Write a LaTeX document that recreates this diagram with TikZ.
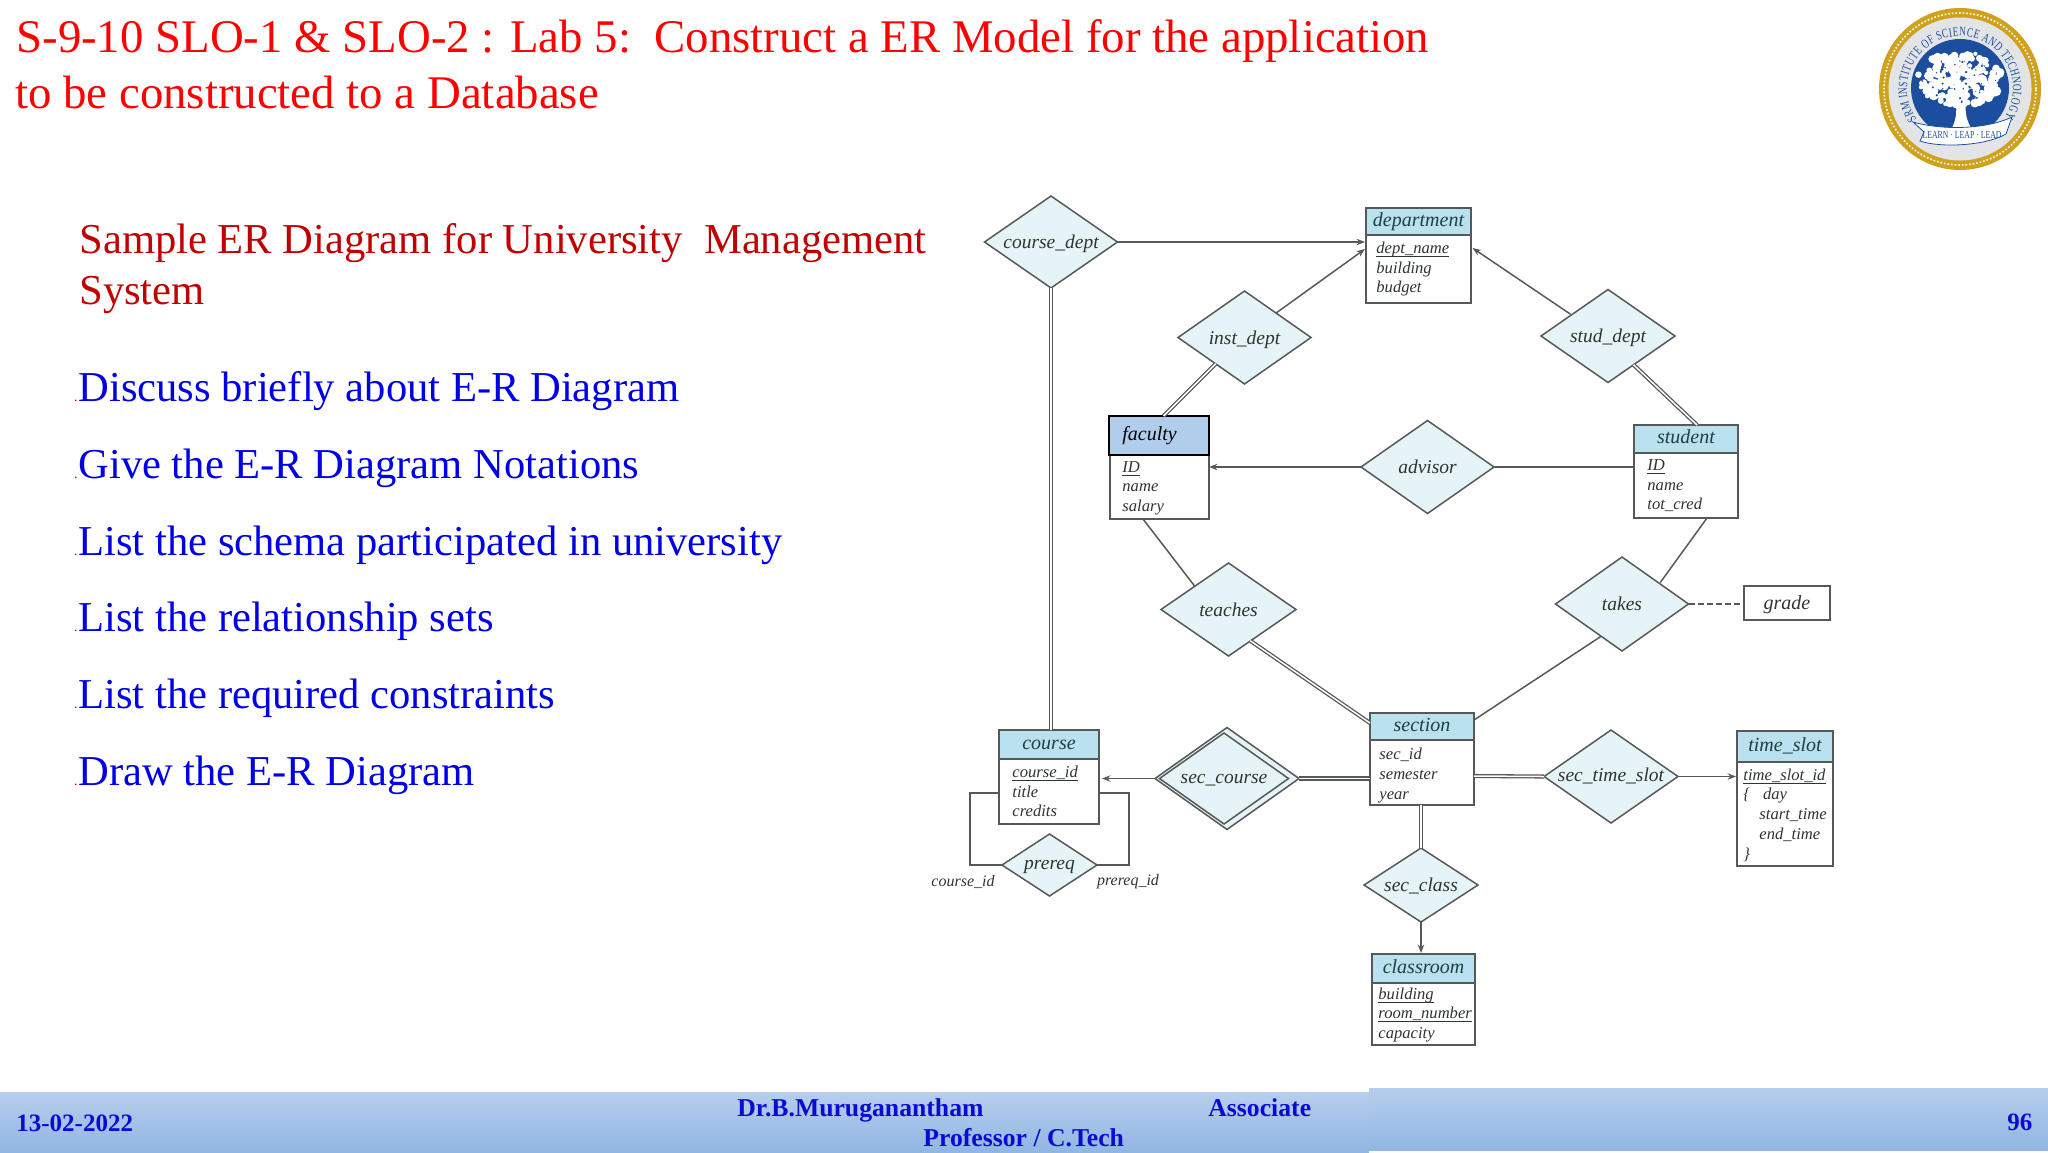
\documentclass[tikz,border=0pt]{standalone}
\usepackage{fontspec}
\setmainfont{Liberation Serif}
\newfontfamily\logofont[FakeStretch=0.72]{Liberation Serif}
\usetikzlibrary{shapes.geometric,arrows.meta,calc,decorations.text}
\definecolor{linec}{HTML}{55595A}
\definecolor{hdrc}{HTML}{B9E1EE}
\definecolor{relc}{HTML}{E6F3F7}
\definecolor{facc}{HTML}{B0CDEB}
\definecolor{txtc}{HTML}{2E3436}
\definecolor{hdrt}{HTML}{1E3F4A}
\definecolor{headred}{HTML}{C00000}
\definecolor{listblue}{HTML}{0000E6}
\definecolor{footblue}{HTML}{0A0AD2}
\definecolor{foota}{HTML}{B7CEEC}
\definecolor{footb}{HTML}{90B6E3}
\definecolor{gold}{HTML}{CFA21E}
\definecolor{ringg}{HTML}{E3E4E6}
\definecolor{srmblue}{HTML}{1B4E9F}
\tikzset{
  conn/.style={draw=linec,line width=0.75pt},
  arr/.style={conn,-{Stealth[length=4.2pt,width=3.2pt]}},
  dbl/.style={draw=linec,line width=0.65pt,double=white,double distance=0.75pt},
  entbody/.style={draw=linec,line width=0.75pt,fill=white,rectangle,inner sep=0pt,outer sep=0pt},
  enthead/.style={entbody,fill=hdrc},
  attrtxt/.style={inner sep=0pt,align=left,text=txtc,font=\fontsize{8.3}{9.85}\selectfont\itshape},
  hdrtxt/.style={text=hdrt,text height=6.5pt,text depth=2pt,font=\fontsize{10}{12}\selectfont\itshape},
  reltxt/.style={text=txtc,text height=7.5pt,text depth=1pt,font=\fontsize{9.75}{12}\selectfont\itshape},
  relshape/.style={diamond,draw=linec,line width=0.75pt,fill=relc,inner sep=0pt,outer sep=0pt,reltxt},
  titletxt/.style={anchor=base west,inner sep=0pt,text=red,font=\fontsize{23.4}{28}\selectfont},
  headtxt/.style={anchor=base west,inner sep=0pt,text=headred,font=\fontsize{21.3}{25}\selectfont},
  listtxt/.style={anchor=base west,inner sep=0pt,text=listblue,font=\fontsize{21.3}{25}\selectfont},
  dottxt/.style={anchor=base east,inner sep=0pt,text=headred,font=\fontsize{7}{8}\selectfont},
  foottxt/.style={anchor=base west,inner sep=0pt,text=footblue,font=\fontsize{12.85}{15}\selectfont\bfseries},
  blob/.style={fill=white,draw=none},
  speck/.style={fill=srmblue,draw=none}
}
\newcommand\ul[1]{\vphantom{dp}\underline{\smash{#1}}}
\def\ashift{0}
% id, title, xl, xr, ytop, yhdr, ybot, inset, attrs
\newcommand\erent[9]{%
  \node[entbody,minimum width={(#4-#3)*0.5pt},minimum height={(#7-#6)*0.5pt}] (#1) at ({(#3+#4)/2},{(#6+#7)/2}) {};
  \node[enthead,hdrtxt,minimum width={(#4-#3)*0.5pt},minimum height={(#6-#5)*0.5pt}] (#1-h) at ({(#3+#4)/2},{(#5+#6)/2}) {#2};
  \node[attrtxt,anchor=west] (#1-a) at ({#3+#8},{(#6+#7)/2+\ashift}) {#9};
}
% id, text, cx, cy, w, h
\newcommand\errel[6]{%
  \pgfmathsetmacro\asp{#5/#6}
  \node[relshape,shape aspect=\asp,minimum width={#5*0.5pt},minimum height={#6*0.5pt}] (#1) at (#3,#4) {#2};
}
\begin{document}
\begin{tikzpicture}[x=0.5pt,y=-0.5pt]
\useasboundingbox (0,0) rectangle (2048,1152);
% footer
\shade[top color=foota,bottom color=footb,draw=none] (0,1092) rectangle (1369,1152);
\shade[top color=foota,bottom color=footb,draw=none] (1369,1088) rectangle (2048,1150);
\node[foottxt,font=\fontsize{12.5}{15}\selectfont\bfseries] (fdate) at (16,1131) {13-02-2022};
\node[foottxt] (fname) at (737,1116) {Dr.B.Muruganantham};
\node[foottxt] (fassoc) at (1208,1116) {Associate};
\node[foottxt] (fprof) at (923,1146) {Professor / C.Tech};
\node[foottxt,font=\fontsize{12.5}{15}\selectfont\bfseries] (fpage) at (2007,1130) {96};
% titles
\node[titletxt] (t1) at (16,52) {S-9-10 SLO-1 \& SLO-2 : Lab 5:\ \ Construct a ER Model for the application};
\node[titletxt] (t2) at (15,108) {to be constructed to a Database};
\node[headtxt] (h1) at (79,253) {Sample ER Diagram for University\ \ Management};
\node[headtxt] (h2) at (79,304) {System};
\foreach \yy/\tt [count=\i] in {401/Discuss briefly about E-R Diagram,478/Give the E-R Diagram Notations,555/List the schema participated in university,631/List the relationship sets,708/List the required constraints,785/Draw the E-R Diagram}{
  \node[listtxt] (li\i) at (78,\yy) {\tt};
  \node[dottxt] (ld\i) at (78,\yy) {.};
}
% logo
\node[circle,fill=gold,minimum size=81pt,inner sep=0pt,draw=none] (lg) at (1960,89) {};
\node[circle,draw=white,densely dotted,line width=0.8pt,minimum size=76pt,inner sep=0pt] (lgd) at (1960,89) {};
\node[circle,fill=ringg,minimum size=71.5pt,inner sep=0pt,draw=none] (lgr) at (1960,89) {};
\node[circle,fill=srmblue,minimum size=49pt,inner sep=0pt,draw=none] (lgb) at (1960,88) {};
\path[decorate,decoration={text along path,text align={fit to path},text={|\logofont\fontsize{6.4}{7}\selectfont\color{srmblue}|SRM INSTITUTE OF SCIENCE AND TECHNOLOGY}}]
  (1960,89) ++(145:53) arc[start angle=145,end angle=392,radius=53];
\pgfmathsetseed{7}
\foreach \i in {1,...,170}{
  \pgfmathsetmacro\aa{rnd*360}
  \pgfmathsetmacro\rr{sqrt(rnd)}
  \pgfmathsetmacro\bb{2+rnd*3}
  \fill[blob] ({1960+43*\rr*cos(\aa)},{79+27*\rr*sin(\aa)}) circle[radius=\bb];
}
\fill[blob] (1952,128) .. controls (1957,118) and (1957,108) .. (1955,100) -- (1966,100) .. controls (1965,108) and (1965,118) .. (1971,128) -- cycle;
\foreach \i in {1,...,45}{
  \pgfmathsetmacro\aa{rnd*360}
  \pgfmathsetmacro\rr{sqrt(rnd)}
  \pgfmathsetmacro\bb{0.5+rnd*0.8}
  \fill[speck] ({1960+38*\rr*cos(\aa)},{79+24*\rr*sin(\aa)}) circle[radius=\bb];
}
\draw[fill=white,draw=srmblue,line width=0.4pt] (1913,122) .. controls (1940,130) and (1985,130) .. (2012,117) -- (2006,134) .. controls (1985,146) and (1940,148) .. (1920,141) -- (1924,132) -- cycle;
\node[inner sep=0pt,text=srmblue,font=\logofont\fontsize{5.4}{6}\selectfont] (lgt) at (1962,135) {LEARN · LEAP · LEAD};
% entities
\erent{dept}{department}{1366}{1471}{208}{235}{303}{10}{\ul{dept\_name}\\building\\budget}
\erent{student}{student}{1634}{1738}{425}{453}{518}{13}{\ul{ID}\\name\\tot\_cred}
\def\ashift{3}
\erent{section}{section}{1370}{1474}{713}{740}{805}{9}{sec\_id\\semester\\year}
\def\ashift{0}
\erent{course}{course}{999}{1099}{730}{759}{824}{13}{\ul{course\_id}\\title\\credits}
\def\ashift{1}
\erent{classroom}{classroom}{1372}{1475}{954}{983}{1045}{6}{\ul{building}\\\ul{room\_number}\\capacity}
\erent{timeslot}{time\_slot}{1737}{1833}{731}{762}{866}{6}{\ul{time\_slot\_id}\\\{\hspace{6.5pt}day\\\hspace{8pt}start\_time\\\hspace{8pt}end\_time\\\}}
\def\ashift{0}
% faculty
\node[entbody,minimum width=49.5pt,minimum height=32pt] (faculty) at (1159.5,487) {};
\node[entbody,draw=black,fill=facc,line width=1pt,minimum width=50.25pt,minimum height=19.5pt] (faculty-h) at (1158.75,435.5) {};
\node[anchor=west,inner sep=0pt,text=black,text height=6.5pt,text depth=2pt,font=\fontsize{10}{12}\selectfont\itshape] (faculty-t) at (1122,436) {faculty};
\node[attrtxt,anchor=west] (faculty-a) at (1122,488) {\ul{ID}\\name\\salary};
% grade
\node[entbody,hdrtxt,text=txtc,text height=7.5pt,text depth=1pt,minimum width=43pt,minimum height=17pt] (grade) at (1787,603) {grade};
% relationships
\errel{cdept}{course\_dept}{1051}{242}{133}{92}
\errel{inst}{inst\_dept}{1244.5}{337.5}{133}{93}
\errel{stud}{stud\_dept}{1608}{336}{134}{93}
\errel{advisor}{advisor}{1427.5}{467}{133}{93}
\errel{teaches}{teaches}{1228.5}{609.5}{135}{93}
\errel{takes}{takes}{1622}{604}{133}{94}
\errel{secclass}{sec\_class}{1421}{885}{114}{74}
\tikzset{reltxt/.append style={text height=6.5pt,text depth=2pt}}
\errel{sects}{sec\_time\_slot}{1611}{776.5}{134}{93}
\errel{prereq}{prereq}{1049.5}{865}{95}{62}
\errel{seccourse}{}{1227}{778.5}{144}{102}
\errel{seccoursei}{sec\_course}{1224}{778.5}{129}{91}
% course_id labels
\node[reltxt,font=\fontsize{8}{10}\selectfont\itshape] (lcid) at (963,882) {course\_id};
\node[reltxt,font=\fontsize{8}{10}\selectfont\itshape] (lpid) at (1128,881) {prereq\_id};
% connectors
\draw[arr] (cdept.east) -- ($(cdept.east -| dept.west)+(-1,0)$);
\draw[arr] ($(inst.north east)+(-2,-1)$) -- ($(dept.north west)+(-1,14)$);
\draw[dbl] ($(inst.south west)+(4.5,3)$) -- ($(faculty-h.north west)+(55,0)$);
\draw[arr] ($(stud.north west)+(-4,1.5)$) -- ($(dept.north east)+(1.5,13)$);
\draw[dbl] ($(stud.south east)+(-8,5.5)$) -- ($(student-h.north west)+(63,0)$);
\draw[arr] (advisor.west) -- (advisor.west -| faculty.east);
\draw[conn] (advisor.east) -- (advisor.east -| student.west);
\draw[conn] ($(faculty.south west)+(33,0)$) -- (teaches.north west);
\draw[dbl] ($(teaches.south east)+(-12,8)$) -- ($(section-h.north west)+(0,10)$);
\draw[conn] ($(student.south west)+(73,0)$) -- ($(takes.north east)+(5,2)$);
\draw[conn] ($(takes.south west)+(12,9)$) -- ($(section-h.north east)+(0,7)$);
\draw[conn,dashed,dash pattern=on 3pt off 1.5pt] (takes.east) -- (takes.east -| grade.west);
\draw[dbl] (cdept.south) -- (cdept.south |- course-h.north);
\draw[arr] (seccourse.west) -- ($(seccourse.west -| course.east)+(3,0)$);
\draw[dbl] (seccourse.east) -- (seccourse.east -| section.west);
\draw[dbl] ($(section.east)+(0,3.5)$) -- (sects.west);
\draw[arr] (sects.east) -- ($(sects.east -| timeslot.west)+(-1,0)$);
\draw[dbl] (section.south -| secclass.north) -- (secclass.north);
\draw[arr] (secclass.south) -- ($(secclass.south |- classroom-h.north)+(0,-1)$);
\coordinate (loopl) at (970,793);
\coordinate (loopr) at (1129,793);
\draw[conn] (loopl -| course.west) -- (loopl) -- (loopl |- prereq.west) -- (prereq.west);
\draw[conn] (loopr -| course.east) -- (loopr) -- (loopr |- prereq.east) -- (prereq.east);
\end{tikzpicture}
\end{document}
